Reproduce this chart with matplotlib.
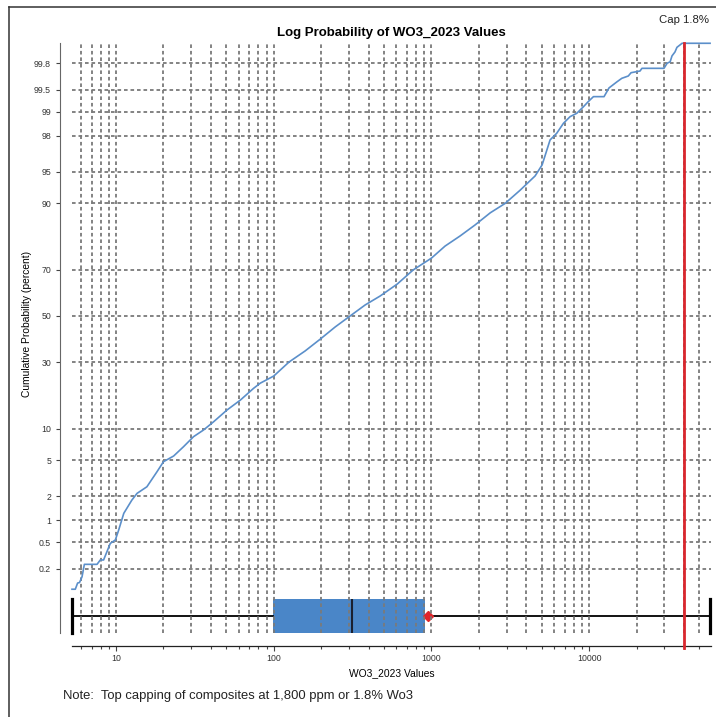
import numpy as np
import matplotlib
matplotlib.use("Agg")
import matplotlib.pyplot as plt
from matplotlib.lines import Line2D
from matplotlib.ticker import FixedLocator, FixedFormatter, LogLocator, NullFormatter, NullLocator
from statistics import NormalDist

plt.rcParams['font.family'] = ['Liberation Sans', 'DejaVu Sans']

# Cumulative distribution of WO3_2023 composite values (ppm) and probability (percent)
wo3_values = [5.26, 5.52, 5.71, 5.87, 6.09, 6.30, 7.58, 7.95, 8.34, 9.20, 9.90, 10.4,
              11.2, 12.6, 13.6, 15.7, 18.2, 20.0, 23.2, 26.8, 31.0, 35.9, 41.6, 50.5,
              61.4, 74.5, 82.1, 100, 125, 158, 198, 245, 305, 380, 473, 607, 766,
              1000, 1220, 1520, 1890, 2360, 2930, 3650, 4540, 5030, 5650, 6230, 6870, 7570,
              8340, 9190, 9880, 10640, 12420, 13360, 14960, 16100, 17700, 18430, 21000,
              21600, 29800, 31200, 32600, 33500, 35000, 36000, 37700, 38800, 58400]
cum_percent = [0.093, 0.093, 0.118, 0.12, 0.149, 0.234, 0.234, 0.273, 0.273, 0.48, 0.537, 0.74,
               1.23, 1.80, 2.17, 2.59, 3.81, 4.85, 5.54, 6.83, 8.46, 9.71, 11.43, 14.2,
               16.9, 20.5, 22.2, 24.7, 30.0, 34.5, 39.7, 45.0, 50.0, 55.0, 59.0, 64.2, 70.0,
               74.5, 78.7, 81.9, 85.0, 88.0, 90.0, 92.4, 94.46, 95.73, 97.75, 98.13, 98.59, 98.84,
               98.95, 99.14, 99.27, 99.375, 99.375, 99.53, 99.615, 99.66, 99.686, 99.72, 99.736,
               99.76, 99.76, 99.80, 99.81, 99.847, 99.868, 99.889, 99.899, 99.905, 99.905]

prob_ticks = [0.2, 0.5, 1, 2, 5, 10, 30, 50, 70, 90, 95, 98, 99, 99.5, 99.8]
prob_labels = ['0.2', '0.5', '1', '2', '5', '10', '30', '50', '70', '90', '95', '98',
               '99', '99.5', '99.8']
x_ticks = [10, 100, 1000, 10000]
x_labels = ['10', '100', '1000', '10000']

# Box summary of the same values
box_min = 5.26
box_q1 = 99
box_median = 314
box_q3 = 912
box_max = 58400
box_mean = 950
cap_value = 40000

_nd = NormalDist()


def prob_forward(p):
    q = np.clip(np.asarray(p, dtype=float) / 100.0, 1e-9, 1 - 1e-9)
    return np.vectorize(_nd.inv_cdf, otypes=[float])(q)


def prob_inverse(z):
    z = np.asarray(z, dtype=float)
    return np.vectorize(_nd.cdf, otypes=[float])(z) * 100.0


W, H = 716, 717
fig = plt.figure(figsize=(W / 100, H / 100), dpi=100)
ax = fig.add_axes([72 / W, 84 / H, 639 / W, 590 / H])
ax.set_xscale('log')
ax.set_yscale('function', functions=(prob_forward, prob_inverse))
ax.set_xlim(5.26, 59200)
ax.set_ylim(0.0153, 99.906)

grid_kw = dict(ls=(0, (2, 1.6)), lw=1.3, color='#7a7a7a')
ax.xaxis.set_major_locator(FixedLocator(x_ticks))
ax.xaxis.set_major_formatter(FixedFormatter(x_labels))
ax.xaxis.set_minor_locator(LogLocator(base=10, subs=np.arange(2, 10)))
ax.xaxis.set_minor_formatter(NullFormatter())
ax.yaxis.set_major_locator(FixedLocator(prob_ticks))
ax.yaxis.set_major_formatter(FixedFormatter(prob_labels))
ax.yaxis.set_minor_locator(NullLocator())
ax.grid(True, which='major', axis='both', **grid_kw)
ax.grid(True, which='minor', axis='x', **grid_kw)

for side in ('top', 'right'):
    ax.spines[side].set_visible(False)
ax.spines['left'].set_position(('outward', 8.6))
ax.spines['bottom'].set_position(('outward', 9.4))
ax.spines['left'].set_color('#666666')
ax.spines['left'].set_linewidth(0.8)
ax.spines['bottom'].set_color('#222222')
ax.spines['bottom'].set_linewidth(0.9)

ax.tick_params(axis='both', which='both', labelsize=6.3, labelcolor='#333333', color='#444444', width=0.8)
ax.tick_params(axis='y', which='major', length=3, pad=3.5)
ax.tick_params(axis='x', which='major', length=3.5, pad=2.5)
ax.tick_params(axis='x', which='minor', length=2)

# probability curve
ax.plot(wo3_values, cum_percent, color='#5b8fca', lw=1.2, zorder=4, clip_on=False)

# capping line
ax.axvline(cap_value, ymin=-0.025, ymax=1, color='#d9272e', lw=2.0, clip_on=False, zorder=5)

# box-and-whisker strip along the bottom
bax = ax.twinx()
bax.set_ylim(-0.5, 17.0)
bax.axis('off')
ax.set_zorder(2)
bax.set_zorder(1)
ax.patch.set_visible(False)

stats = [dict(med=box_median, q1=box_q1, q3=box_q3, whislo=box_min, whishi=box_max,
              mean=box_mean, fliers=[])]
bxp_kw = dict(positions=[0], widths=[1.0], patch_artist=True, showmeans=True,
              showfliers=False, capwidths=[1.0],
              boxprops=dict(facecolor='#4a86c8', edgecolor='#4a86c8', lw=0),
              medianprops=dict(color='#1a2030', lw=1.5),
              whiskerprops=dict(color='black', lw=1.3),
              capprops=dict(color='black', lw=2.3),
              meanprops=dict(marker='D', markerfacecolor='#e0262a',
                             markeredgecolor='#e0262a', markersize=5))
try:
    parts = bax.bxp(stats, orientation='horizontal', **bxp_kw)
except TypeError:
    parts = bax.bxp(stats, vert=False, **bxp_kw)
for cap in parts['caps']:
    cap.set_clip_on(False)

ax.set_title('Log Probability of WO3_2023 Values', fontsize=9.5, fontweight='bold', pad=5)
ax.set_xlabel('WO3_2023 Values', fontsize=7.4)
ax.xaxis.set_label_coords(0.5, -0.059)
ax.set_ylabel('Cumulative Probability (percent)', fontsize=7.4)
ax.yaxis.set_label_coords(-0.0626, 0.524)

fig.text(709 / W, 1 - 20 / H, 'Cap 1.8%', ha='right', va='center', fontsize=8.2, color='#222222')
fig.text(62.7 / W, 1 - 696 / H, 'Note:  Top capping of composites at 1,800 ppm or 1.8% Wo3',
         ha='left', va='center', fontsize=9.4, color='#222222')

# frame edges
fig.add_artist(Line2D([9 / W, 1], [1 - 7 / H, 1 - 7 / H], transform=fig.transFigure,
                      color='#333333', lw=1.1))
fig.add_artist(Line2D([9 / W, 9 / W], [0, 1 - 7 / H], transform=fig.transFigure,
                      color='#333333', lw=1.1))

fig.savefig('out.png', dpi=100)
